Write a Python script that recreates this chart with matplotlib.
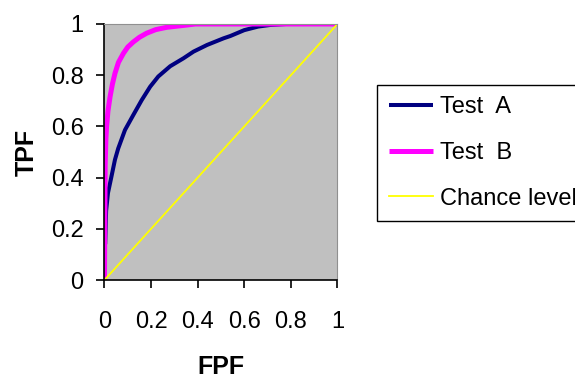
import matplotlib
matplotlib.use("Agg")
import matplotlib.pyplot as plt

plt.rcParams['font.family'] = ['Liberation Sans', 'DejaVu Sans']

# ROC curve points
fpf_a = [0.003, 0.007, 0.015, 0.029, 0.045, 0.059, 0.088, 0.124, 0.16, 0.196, 0.231,
         0.282, 0.339, 0.382, 0.44, 0.511, 0.54, 0.60, 0.66, 0.71, 0.78, 0.855]
tpf_a = [0.14, 0.27, 0.34, 0.40, 0.47, 0.514, 0.586, 0.645, 0.703, 0.755, 0.795,
         0.835, 0.866, 0.892, 0.918, 0.944, 0.953, 0.976, 0.99, 0.996, 1.0, 1.0]

fpf_b = [0.0, 0.003, 0.006, 0.009, 0.015, 0.024, 0.034, 0.045, 0.06, 0.081, 0.1,
         0.124, 0.15, 0.181, 0.22, 0.267, 0.354, 0.39, 1.0]
tpf_b = [0.0, 0.45, 0.55, 0.60, 0.66, 0.716, 0.765, 0.807, 0.85, 0.885, 0.91,
         0.93, 0.948, 0.964, 0.978, 0.987, 0.996, 1.0, 1.0]

chance = [0, 1]
labels = ["Test  A", "Test  B", "Chance level"]
ticks = [0, 0.2, 0.4, 0.6, 0.8, 1]
tick_labels = ["0", "0.2", "0.4", "0.6", "0.8", "1"]

fig = plt.figure(figsize=(5.75, 3.79), dpi=100)
ax = fig.add_axes([0.1817, 0.2612, 0.4052, 0.6755])
ax.set_facecolor('#C0C0C0')

ax.plot(fpf_a, tpf_a, color='#000080', lw=2.9, label=labels[0], solid_capstyle='butt')
ax.plot(fpf_b, tpf_b, color='#FF00FF', lw=3.6, label=labels[1], solid_capstyle='butt')
ax.plot(chance, chance, color='#FFFF00', lw=1.3, label=labels[2])

ax.set_xlim(0, 1)
ax.set_ylim(0, 1)
ax.set_xticks(ticks)
ax.set_xticklabels(tick_labels)
ax.set_yticks(ticks)
ax.set_yticklabels(tick_labels)
ax.tick_params(direction='out', length=6, width=1.2, labelsize=17, colors='black')
ax.tick_params(axis='x', pad=16)
ax.tick_params(axis='y', pad=9)

for side in ['left', 'bottom']:
    ax.spines[side].set_linewidth(1.2)
for side in ['top', 'right']:
    ax.spines[side].set_color('#909090')
    ax.spines[side].set_linewidth(0.8)

ax.set_xlabel("FPF", fontsize=18, fontweight='bold', labelpad=16)
ax.set_ylabel("TPF", fontsize=18, fontweight='bold', labelpad=9)

# legend runs off the right edge, as in the original
leg = ax.legend(loc='upper left', bbox_to_anchor=(0.6557, 0.777),
                bbox_transform=fig.transFigure, fontsize=17, frameon=True,
                fancybox=False, edgecolor='black', framealpha=1,
                handlelength=1.85, handletextpad=0.3, borderpad=0.5,
                labelspacing=1.0, borderaxespad=0)
leg.get_frame().set_linewidth(1.0)

fig.savefig("out.png", dpi=100)
